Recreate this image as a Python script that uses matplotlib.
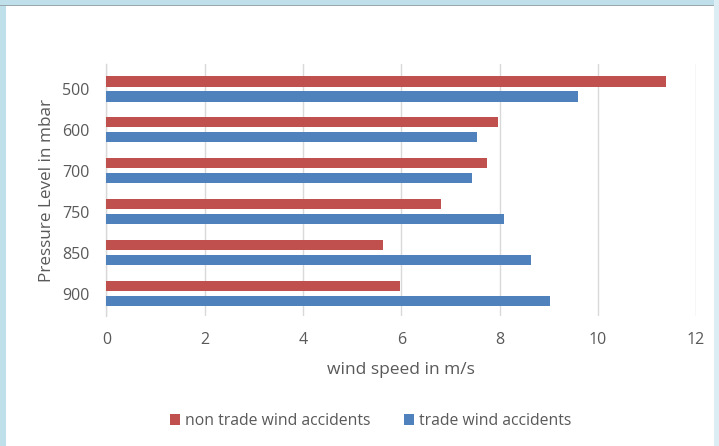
import matplotlib
matplotlib.use("Agg")
import matplotlib.pyplot as plt
from matplotlib.patches import Rectangle
import numpy as np

# Mean wind speed per pressure level
levels = ["500", "600", "700", "750", "850", "900"]
non_trade = [11.38, 7.97, 7.74, 6.81, 5.62, 5.98]
trade = [9.59, 7.55, 7.45, 8.10, 8.65, 9.03]
series_names = ["non trade wind accidents", "trade wind accidents"]
x_ticks = [0, 2, 4, 6, 8, 10, 12]

RED = "#c0504d"
BLUE = "#4f81bd"
TEXT = "#595959"
GRID = "#d9d9d9"

plt.rcParams["font.family"] = ["Open Sans", "DejaVu Sans"]

W, H = 719, 446
fig = plt.figure(figsize=(W / 100, H / 100), dpi=100)
fig.patch.set_facecolor("white")

# slide frame around the chart
fig.add_artist(Rectangle((0, 0), 6 / W, 1, transform=fig.transFigure,
                         facecolor="#bfe0ea", edgecolor="none", zorder=0))
fig.add_artist(Rectangle((0, 1 - 5 / H), 1, 5 / H, transform=fig.transFigure,
                         facecolor="#bfe0ea", edgecolor="none", zorder=0))
fig.add_artist(Rectangle((0, 1 - 6 / H), 1, 1.2 / H, transform=fig.transFigure,
                         facecolor="#9aa8ad", edgecolor="none", zorder=0))
fig.add_artist(Rectangle((1 - 5 / W, 0), 5 / W, 1, transform=fig.transFigure,
                         facecolor="#dcedf3", edgecolor="none", zorder=0))

left, right = 106.5, 696
top, bottom = 64, 316
ax = fig.add_axes([left / W, 1 - bottom / H, (right - left) / W, (bottom - top) / H])

y = np.arange(len(levels))
h = 0.245
off = 0.183
ax.barh(y - off, non_trade, height=h, color=RED, label=series_names[0], zorder=3)
ax.barh(y + off, trade, height=h, color=BLUE, label=series_names[1], zorder=3)

ax.set_xlim(0, 12)
ax.set_ylim(5.54, -0.61)
ax.set_xticks(x_ticks)
ax.set_xticklabels([str(t) for t in x_ticks])
ax.set_yticks(y)
ax.set_yticklabels(levels)
ax.xaxis.grid(True, color=GRID, linewidth=1, zorder=0)
ax.set_axisbelow(True)
for s in ["top", "right", "bottom"]:
    ax.spines[s].set_visible(False)
ax.spines["left"].set_color(GRID)
ax.spines["left"].set_linewidth(1)
ax.tick_params(axis="both", length=0, labelsize=11.5, labelcolor=TEXT)
ax.tick_params(axis="x", pad=11.5)
ax.tick_params(axis="y", pad=12.5)

ax.set_xlabel("wind speed in m/s", fontsize=12.5, color=TEXT, labelpad=10)
ax.set_ylabel("Pressure Level in mbar", fontsize=12.3, color=TEXT, labelpad=5)

leg = fig.legend(loc="center", bbox_to_anchor=(370.5 / W, 1 - 421 / H), ncol=2,
                 frameon=False, fontsize=11.3, handlelength=0.64, handleheight=0.64,
                 handletextpad=0.32, columnspacing=2.1, borderpad=0)
for t in leg.get_texts():
    t.set_color(TEXT)

fig.savefig("out.png", dpi=100, facecolor="white")
